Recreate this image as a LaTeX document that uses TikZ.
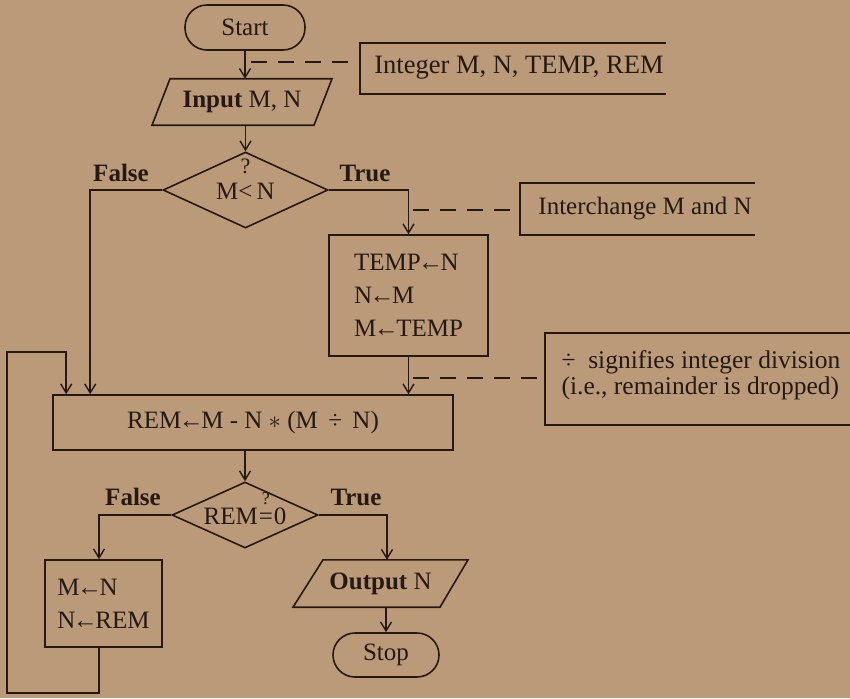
\documentclass[tikz,border=0pt]{standalone}
\usepackage{fontspec}
\setmainfont{Liberation Serif}
\usetikzlibrary{arrows.meta,shapes.geometric}
\definecolor{bg}{RGB}{186,154,120}
\definecolor{ink}{RGB}{38,25,18}
\newcommand{\qeqsym}{\mbox{\ooalign{=\cr\hidewidth\raisebox{20pt}{\fontsize{18}{18}\selectfont ?}\hidewidth\cr}}}
\newcommand{\asg}{\kern-2.5pt←\kern-2.5pt}
\begin{document}
\begin{tikzpicture}[x=1pt,y=-1pt,
  line/.style={draw=ink, line width=1.6pt},
  arr/.style={line, -{Straight Barb[length=9pt,width=11pt,line width=1.4pt]}},
  dashline/.style={draw=ink, line width=1.6pt, dash pattern=on 16pt off 11pt},
  txt/.style={text=ink, inner sep=0pt, font=\fontsize{25}{33}\selectfont},
  lbl/.style={text=ink, inner sep=0pt, font=\fontsize{25}{30}\selectfont\bfseries},
  term/.style={line, rectangle, rounded corners=22pt, inner sep=0pt, text=ink, font=\fontsize{25}{30}\selectfont},
  proc/.style={line, rectangle, inner sep=0pt, text=ink, font=\fontsize{25}{33}\selectfont},
  dec/.style={line, diamond, inner sep=0pt},
  hole/.style={inner sep=0pt, outer sep=0pt}
]
\fill[bg] (0,0) rectangle (850,698);
\useasboundingbox (0,0) rectangle (850,698);

% top
\node[term, minimum width=120pt, minimum height=45pt] (start) at (245,27.5) {Start};
\node[txt, minimum width=160pt, minimum height=46pt] (input) at (242,102) {\textbf{Input} M, N};
\draw[line] ([xshift=-90pt]input.south) -- ([xshift=-72pt]input.north) -- ([xshift=90pt]input.north) -- ([xshift=72pt]input.south) -- cycle;
\draw[arr] (start.south) -- (start.south |- input.north);

% annotation 1
\node[hole, minimum width=306pt, minimum height=51pt] (ann1) at (513,68.5) {};
\draw[line] (ann1.north east) -- (ann1.north west) -- (ann1.south west) -- (ann1.south east);
\node[txt, font=\fontsize{26.5}{30}\selectfont] (ann1t) at (519,68) {Integer M, N, TEMP, REM};
\coordinate (c1) at (251,62);
\draw[dashline] (c1) -- (c1 -| ann1.west);

% decision 1
\node[dec, minimum width=165pt, minimum height=76pt] (d1) at (245.5,190) {};
\node[txt] (d1t) at (245.5,191) {M{<}\,N};
\node[txt, font=\fontsize{22}{22}\selectfont] (d1q) at (245.5,166) {?};
\draw[arr] (d1.north |- input.south) -- (d1.north);
\node[lbl] (f1) at (121,173) {False};
\node[lbl] (t1) at (365,173) {True};

% swap box
\node[proc, minimum width=159pt, minimum height=121pt, align=left] (tmp) at (408.5,295.5) {TEMP\asg N\\N\asg M\\M\asg TEMP};
\draw[arr] (d1.east) -| (tmp.north);

% annotation 2
\node[hole, minimum width=235pt, minimum height=52pt] (ann2) at (637.5,209) {};
\draw[line] (ann2.north east) -- (ann2.north west) -- (ann2.south west) -- (ann2.south east);
\node[txt] (ann2t) at (645,209) {Interchange M and N};
\coordinate (c2) at (413,210);
\draw[dashline] (c2) -- (c2 -| ann2.west);

% REM box
\node[proc, minimum width=400pt, minimum height=55pt] (rem) at (253,422.5) {REM\asg M - N $\ast$ (M \,÷\, N)};
\draw[arr] (d1.west) -| ([xshift=38pt]rem.north west);
\draw[arr] (tmp.south) -- (tmp.south |- rem.north);

% annotation 3
\node[hole, minimum width=310pt, minimum height=92pt] (ann3) at (700,379) {};
\draw[line] (ann3.north east) -- (ann3.north west) -- (ann3.south west) -- (ann3.south east);
\node[txt, align=left, font=\fontsize{25.5}{26}\selectfont] (ann3t) at (701,375) {÷\ \ signifies integer division\\(i.e., remainder is dropped)};
\coordinate (c3) at (413,378);
\draw[dashline] (c3) -- (c3 -| ann3.west);

% decision 2
\node[dec, minimum width=146pt, minimum height=66pt] (d2) at (245,515) {};
\node[txt, anchor=base] (d2t) at (245,524) {REM\kern1pt\qeqsym\kern1pt0};
\draw[arr] (rem.south -| d2.north) -- (d2.north);
\node[lbl] (f2) at (133,497) {False};
\node[lbl] (t2) at (356,497) {True};

% M<-N box
\node[proc, minimum width=117pt, minimum height=87pt, align=left] (mn) at (103.5,603.5) {M\asg N\\N\asg REM};
\coordinate (lb) at (99,693);
\draw[arr] (d2.west) -| (mn.north -| lb);
\draw[arr] (mn.south -| lb) -- (lb) -| (7,352) -| ([xshift=14pt]rem.north west);

% output
\node[txt, minimum width=150pt, minimum height=47pt] (out) at (380.5,583.5) {\textbf{Output} N};
\draw[line] ([xshift=-87.5pt]out.south) -- ([xshift=-57.5pt]out.north) -- ([xshift=87.5pt]out.north) -- ([xshift=59.5pt]out.south) -- cycle;
\draw[arr] (d2.east) -| ([xshift=6.5pt]out.north);
\node[term, minimum width=106pt, minimum height=44pt] (stop) at (386,655) {Stop};
\draw[arr] (stop.north |- out.south) -- (stop.north);
\end{tikzpicture}
\end{document}
